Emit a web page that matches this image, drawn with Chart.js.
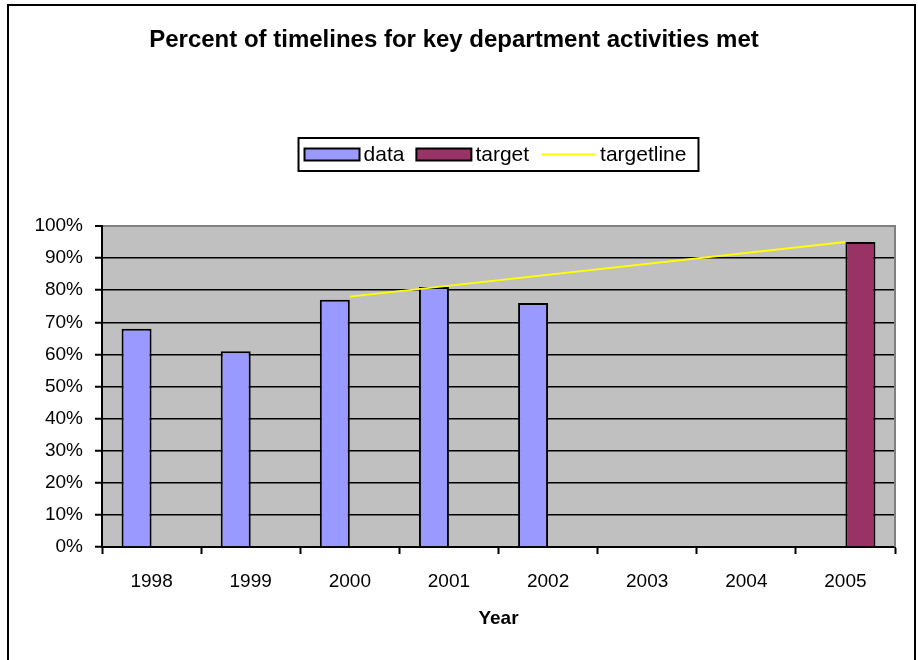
<!DOCTYPE html>
<html>
<head>
<meta charset="utf-8">
<script src="https://cdn.jsdelivr.net/npm/chart.js@4.4.1/dist/chart.umd.min.js"></script>
<style>
  html, body { margin: 0; padding: 0; background: #ffffff; }
  #wrap { width: 918px; height: 660px; }
</style>
</head>
<body>
<div id="wrap"><canvas id="chart" width="918" height="660"></canvas></div>
<script>
// Categories and series
const years = ['1998', '1999', '2000', '2001', '2002', '2003', '2004', '2005'];
const dataValues = [0.68, 0.61, 0.77, 0.81, 0.76, null, null, null];
const targetValues = [null, null, null, null, null, null, null, 0.95];
const targetLineValues = [null, null, 0.78, null, null, null, null, 0.95];

// Axis ticks (fractions shown as percentages)
const yTickValues = [0, 0.1, 0.2, 0.3, 0.4, 0.5, 0.6, 0.7, 0.8, 0.9, 1.0];

const FONT = '"Liberation Sans", Arial, Helvetica, sans-serif';
const PLOT_BG = '#C0C0C0';
const PLOT_EDGE = '#808080';

// Background, plot frame, outer border and the boxed legend
const framePlugin = {
  id: 'frame',
  beforeDraw(chart) {
    const { ctx, chartArea: a } = chart;
    ctx.save();
    ctx.fillStyle = '#ffffff';
    ctx.fillRect(0, 0, chart.width, chart.height);
    ctx.fillStyle = PLOT_BG;
    ctx.fillRect(a.left, a.top, a.right - a.left, a.bottom - a.top);
    ctx.restore();
  },
  afterDraw(chart) {
    const { ctx, chartArea: a } = chart;
    ctx.save();
    // right edge of plot area
    ctx.strokeStyle = PLOT_EDGE;
    ctx.lineWidth = 2;
    ctx.beginPath();
    ctx.moveTo(a.right, a.top - 1);
    ctx.lineTo(a.right, a.bottom);
    ctx.stroke();

    // outer chart border
    ctx.strokeStyle = '#000000';
    ctx.lineWidth = 2;
    ctx.strokeRect(8, 5, 907, 700);

    // legend
    const fontSize = 21;
    ctx.font = fontSize + 'px ' + FONT;
    const swatchW = 55, swatchH = 12, textGap = 4, itemGap = 12;
    const items = chart.data.datasets.map(ds => ({
      label: ds.label,
      isLine: ds.type === 'line',
      fill: ds.backgroundColor,
      stroke: ds.borderColor,
      w: ctx.measureText(ds.label).width
    }));
    let itemsW = 0;
    items.forEach((it, i) => { itemsW += swatchW + textGap + it.w + (i ? itemGap : 0); });
    const boxW = itemsW + 18;
    const boxH = 33;
    const boxCx = (a.left + a.right) / 2;
    const boxL = boxCx - boxW / 2;
    const boxT = 138;
    ctx.lineWidth = 2;
    ctx.strokeStyle = '#000000';
    ctx.strokeRect(boxL, boxT, boxW, boxH);
    const cy = boxT + boxH / 2;
    let x = boxL + 6;
    items.forEach(it => {
      if (it.isLine) {
        ctx.strokeStyle = it.stroke;
        ctx.lineWidth = 2;
        ctx.beginPath();
        ctx.moveTo(x, cy);
        ctx.lineTo(x + swatchW, cy);
        ctx.stroke();
      } else {
        ctx.fillStyle = it.fill;
        ctx.fillRect(x, cy - swatchH / 2, swatchW, swatchH);
        ctx.strokeStyle = '#000000';
        ctx.lineWidth = 2;
        ctx.strokeRect(x, cy - swatchH / 2, swatchW, swatchH);
      }
      ctx.fillStyle = '#000000';
      ctx.textBaseline = 'middle';
      ctx.textAlign = 'left';
      ctx.fillText(it.label, x + swatchW + textGap, cy + 1);
      x += swatchW + textGap + it.w + itemGap;
    });
    ctx.restore();
  }
};

new Chart(document.getElementById('chart'), {
  type: 'bar',
  data: {
    labels: years,
    datasets: [
      {
        label: 'data',
        data: dataValues,
        backgroundColor: '#9999FF',
        borderColor: '#000000',
        borderWidth: 2,
        borderSkipped: 'bottom',
        categoryPercentage: 0.605,
        barPercentage: 1.0,
        order: 2
      },
      {
        label: 'target',
        data: targetValues,
        backgroundColor: '#993366',
        borderColor: '#000000',
        borderWidth: 2,
        borderSkipped: 'bottom',
        categoryPercentage: 0.605,
        barPercentage: 1.0,
        order: 2
      },
      {
        type: 'line',
        label: 'targetline',
        data: targetLineValues,
        borderColor: '#FFFF00',
        backgroundColor: '#FFFF00',
        borderWidth: 2,
        pointRadius: 0,
        spanGaps: true,
        tension: 0,
        fill: false,
        order: 1
      }
    ]
  },
  options: {
    responsive: false,
    animation: false,
    devicePixelRatio: 1,
    layout: { padding: { left: 13, right: 23, top: 0, bottom: 0 } },
    plugins: {
      legend: { display: false },
      tooltip: { enabled: false },
      title: {
        display: true,
        text: 'Percent of timelines for key department activities met',
        color: '#000000',
        font: { family: FONT, size: 24, weight: 'bold', lineHeight: 1.2 },
        padding: { top: 26, bottom: 171.2 }
      }
    },
    scales: {
      x: {
        offset: true,
        afterFit(scale) { scale.height = 113; },
        grid: {
          offset: true,
          drawOnChartArea: false,
          drawTicks: true,
          tickLength: 7,
          tickWidth: 2,
          tickColor: '#000000'
        },
        border: { display: true, color: '#000000', width: 2 },
        ticks: {
          color: '#000000',
          font: { family: FONT, size: 19 },
          padding: 16,
          maxRotation: 0,
          autoSkip: false
        },
        title: {
          display: true,
          text: 'Year',
          color: '#000000',
          font: { family: FONT, size: 19, weight: 'bold' },
          padding: { top: 0, bottom: 30 }
        }
      },
      y: {
        min: 0,
        max: 1,
        afterFit(scale) { scale.width = 89; },
        afterBuildTicks(scale) { scale.ticks = yTickValues.map(v => ({ value: v })); },
        grid: {
          color: ctx => (ctx.tick && ctx.tick.value === 1 ? PLOT_EDGE : '#000000'),
          lineWidth: ctx => (ctx.tick && ctx.tick.value === 1 ? 2 : 1.5),
          drawTicks: true,
          tickLength: 7,
          tickWidth: 2,
          tickColor: '#000000'
        },
        border: { display: true, color: '#000000', width: 2 },
        ticks: {
          color: '#000000',
          font: { family: FONT, size: 19 },
          padding: 12,
          callback: v => Math.round(v * 100) + '%'
        }
      }
    }
  },
  plugins: [framePlugin]
});
</script>
</body>
</html>
